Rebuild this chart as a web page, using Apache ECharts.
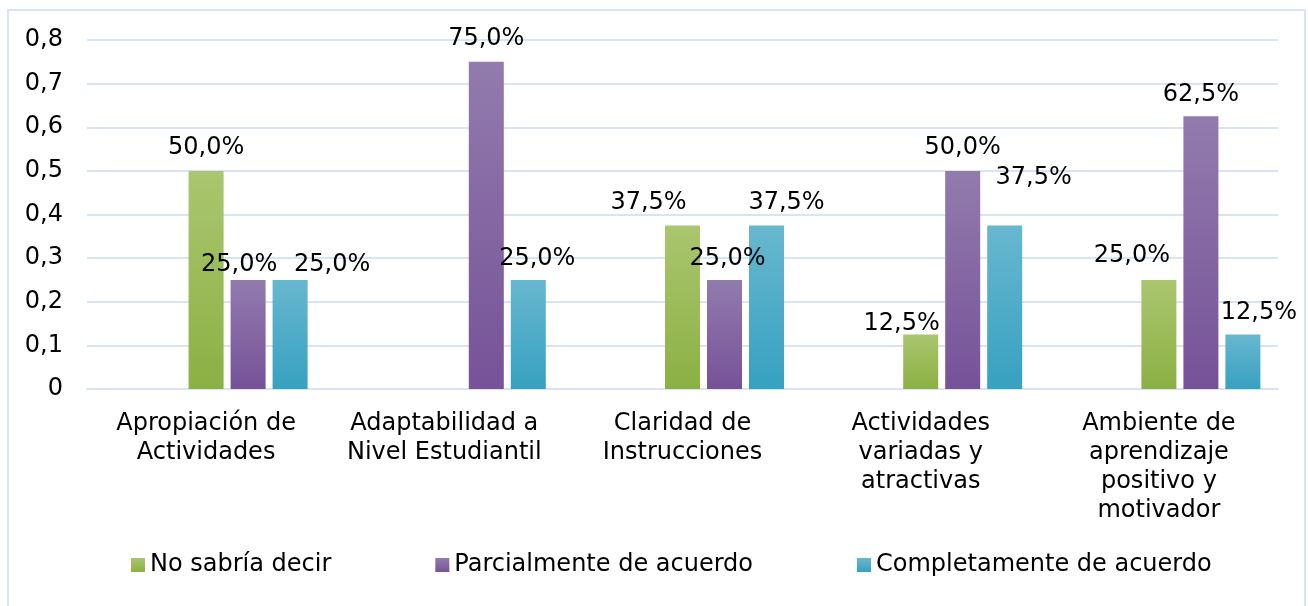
<!DOCTYPE html>
<html>
<head>
<meta charset="utf-8">
<script src="https://cdn.jsdelivr.net/npm/echarts@6/dist/echarts.min.js"></script>
<style>
  html, body { margin: 0; padding: 0; background: #ffffff; }
  #chart { width: 1308px; height: 606px; }
</style>
</head>
<body>
<div id="chart"></div>
<script>
// ---- data ----
const categories = [
  "Apropiación de\nActividades",
  "Adaptabilidad a\nNivel Estudiantil",
  "Claridad de\nInstrucciones",
  "Actividades\nvariadas y\natractivas",
  "Ambiente de\naprendizaje\npositivo y\nmotivador"
];
const seriesNames = ["No sabría decir", "Parcialmente de acuerdo", "Completamente de acuerdo"];
// two empty answer options occupy the first bar slots of each group
const emptyOptionA = [0, 0, 0, 0, 0];
const emptyOptionB = [0, 0, 0, 0, 0];
const noSabria = [0.5, 0, 0.375, 0.125, 0.25];
const parcialmente = [0.25, 0.75, 0.25, 0.5, 0.625];
const completamente = [0.25, 0.25, 0.375, 0.375, 0.125];
const yTicks = [0, 0.1, 0.2, 0.3, 0.4, 0.5, 0.6, 0.7, 0.8];

// ---- label nudges (as placed in the original) [dx, dy] ----
const nudgeGreen  = [[0, 0], [0, 0], [-34, 0], [-19, 12], [-27, -1]];
const nudgePurple = [[-9, 8], [0, 0], [3, 2], [0, 0], [0, 1]];
const nudgeCyan   = [[42, 8], [9, 2], [20, 0], [29, -25], [16, 1]];

const FONT = "'DejaVu Sans', Verdana, sans-serif";

function grad(top, bottom) {
  return { type: 'linear', x: 0, y: 0, x2: 0, y2: 1,
    colorStops: [{ offset: 0, color: top }, { offset: 1, color: bottom }] };
}
function pct(v) { return (v * 100).toFixed(1).replace('.', ',') + '%'; }

function buildData(values, nudges) {
  return values.map((v, i) => ({
    value: v,
    label: { show: v > 0, offset: nudges[i] }
  }));
}

const labelBase = {
  show: true, position: 'top', distance: 11,
  fontFamily: FONT, fontSize: 24, lineHeight: 24, color: '#000',
  formatter: p => p.value > 0 ? pct(p.value) : ''
};

const chart = echarts.init(document.getElementById('chart'), null, { renderer: 'canvas' });
chart.setOption({
  animation: false,
  backgroundColor: '#ffffff',
  textStyle: { fontFamily: FONT },
  graphic: [{
    type: 'rect', silent: true, z: -1,
    shape: { x: 8, y: 10, width: 1297, height: 700 },
    style: { fill: 'none', stroke: '#d9e3f1', lineWidth: 2 }
  }],
  grid: { left: 87, right: 30, top: 40, bottom: 217, containLabel: false },
  legend: {
    data: seriesNames,
    left: 131, top: 553, padding: 0,
    itemWidth: 14, itemHeight: 14, itemGap: 104,
    icon: 'rect',
    textStyle: { fontFamily: FONT, fontSize: 24, lineHeight: 24, color: '#000' }
  },
  xAxis: {
    type: 'category',
    data: categories,
    axisLine: { show: true, lineStyle: { color: '#d9e4f3', width: 2 } },
    axisTick: { show: false },
    axisLabel: {
      interval: 0, margin: 20,
      fontFamily: FONT, fontSize: 24, lineHeight: 29, color: '#000', align: 'center'
    }
  },
  yAxis: {
    type: 'value',
    min: yTicks[0], max: yTicks[yTicks.length - 1], interval: 0.1,
    axisLine: { show: false },
    axisTick: { show: false },
    splitLine: { lineStyle: { color: '#d9e4f3', width: 2 } },
    axisLabel: {
      margin: 24, fontFamily: FONT, fontSize: 24, color: '#000',
      formatter: v => v === 0 ? '0' : v.toFixed(1).replace('.', ',')
    }
  },
  series: [
    { name: 'opt1', type: 'bar', data: emptyOptionA, barWidth: 35, barGap: '20%', label: { show: false } },
    { name: 'opt2', type: 'bar', data: emptyOptionB, barWidth: 35, barGap: '20%', label: { show: false } },
    { name: seriesNames[0], type: 'bar', barWidth: 35, barGap: '20%',
      itemStyle: { color: grad('#aac66f', '#8cb043') },
      label: labelBase, data: buildData(noSabria, nudgeGreen) },
    { name: seriesNames[1], type: 'bar', barWidth: 35, barGap: '20%',
      itemStyle: { color: grad('#927bad', '#765298') },
      label: labelBase, data: buildData(parcialmente, nudgePurple) },
    { name: seriesNames[2], type: 'bar', barWidth: 35, barGap: '20%',
      itemStyle: { color: grad('#68b7cf', '#36a1c0') },
      label: labelBase, data: buildData(completamente, nudgeCyan) }
  ]
});
</script>
</body>
</html>
